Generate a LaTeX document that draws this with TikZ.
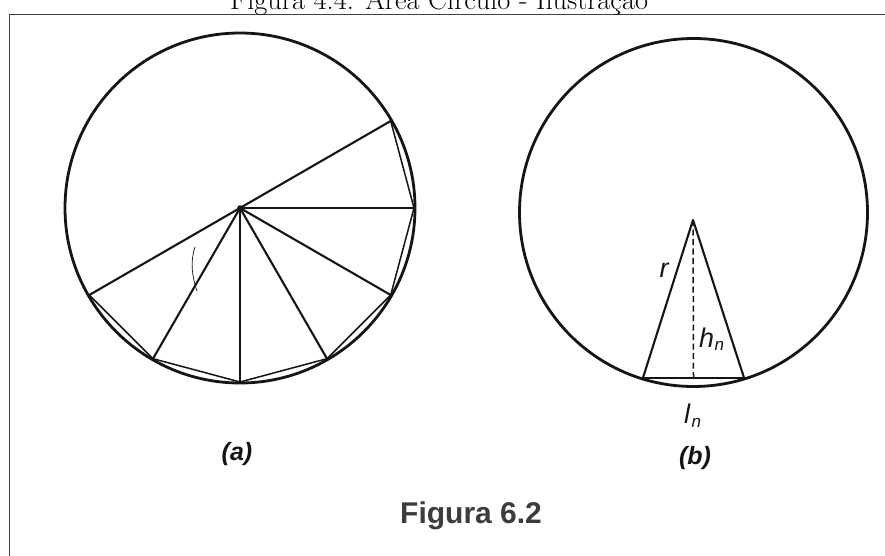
\documentclass[tikz,border=0pt]{standalone}
\usepackage{fontspec}
\newfontfamily\labelsans{Liberation Sans}
\definecolor{ink}{HTML}{151515}
\definecolor{capgray}{HTML}{3C3C3C}
\begin{document}
\begin{tikzpicture}[x=1pt,y=-1pt,line cap=round,line join=round,
  circ/.style={line width=2.8pt,draw=ink},
  spoke/.style={line width=2.1pt,draw=ink},
  chord/.style={line width=1.5pt,draw=ink},
  lbl/.style={inner sep=0pt,text=ink,font=\fontsize{27}{27}\labelsans\itshape},
  sub/.style={inner sep=0pt,text=ink,font=\fontsize{17}{17}\labelsans\itshape},
  part/.style={inner sep=0pt,text=ink,font=\fontsize{25}{25}\labelsans\bfseries\itshape}]
\useasboundingbox (0,0) rectangle (885,556);
\clip (0,0) rectangle (885,556);
\fill[white] (0,0) rectangle (885,556);
% frame
\draw[line width=1pt,draw=black!75] (9,15) rectangle (900,600);
% title
\node[anchor=base west,inner sep=0pt,font=\fontsize{28.4}{30}\selectfont] (title) at (230,10) {Figura 4.4: Área Círculo - Ilustração};
% ---- left circle (a)
\coordinate (cA) at (240,208);
\draw[circ] (cA) circle[radius=175];
\foreach \a/\n in {-30/1,0/2,30/3,60/4,90/5,120/6,150/7}
  \path (cA) ++(\a:174) coordinate (p\n);
\draw[chord] (p1) -- (p2) -- (p3) -- (p4) -- (p5) -- (p6) -- (p7);
\draw[spoke] (p1) -- (p7);
\foreach \n in {2,3,4,5,6} \draw[spoke] (cA) -- (p\n);
\fill[ink] (cA) circle[radius=2.8];
\draw[line width=0.7pt,draw=ink] (195,247) .. controls (190,262) and (192,276) .. (197,291);
\node[part] (la) at (237,454) {(a)};
% ---- right circle (b)
\coordinate (cB) at (693.5,212.5);
\draw[circ] (cB) circle[radius=174];
\coordinate (apex) at (693,220);
\path (cB) ++(107:173) coordinate (bL);
\path (cB) ++(73:173) coordinate (bR);
\path (bL) -- (bR) coordinate[pos=0.5] (bM);
\draw[spoke] (bL) -- (apex) -- (bR);
\draw[line width=2.4pt,draw=ink] (bL) -- (bR);
\draw[line width=1.5pt,draw=ink,dash pattern=on 6pt off 3.5pt,line cap=butt] (apex) -- (bM);
\node[lbl,anchor=base] (r) at (664,277) {r};
\node[lbl,anchor=base west] (h) at (699,347) {h};
\node[sub,anchor=base west] (hn) at ([yshift=-3pt]h.base east) {n};
\node[lbl,anchor=base west] (l) at (684,423) {l};
\node[sub,anchor=base west] (ln) at ([xshift=1pt,yshift=-4pt]l.base east) {n};
\node[part] (lb) at (695,458) {(b)};
% caption
\node[anchor=base west,inner sep=0pt,text=capgray,font=\fontsize{30}{30}\labelsans\bfseries] (cap) at (400,523) {Figura 6.2};
\end{tikzpicture}
\end{document}
